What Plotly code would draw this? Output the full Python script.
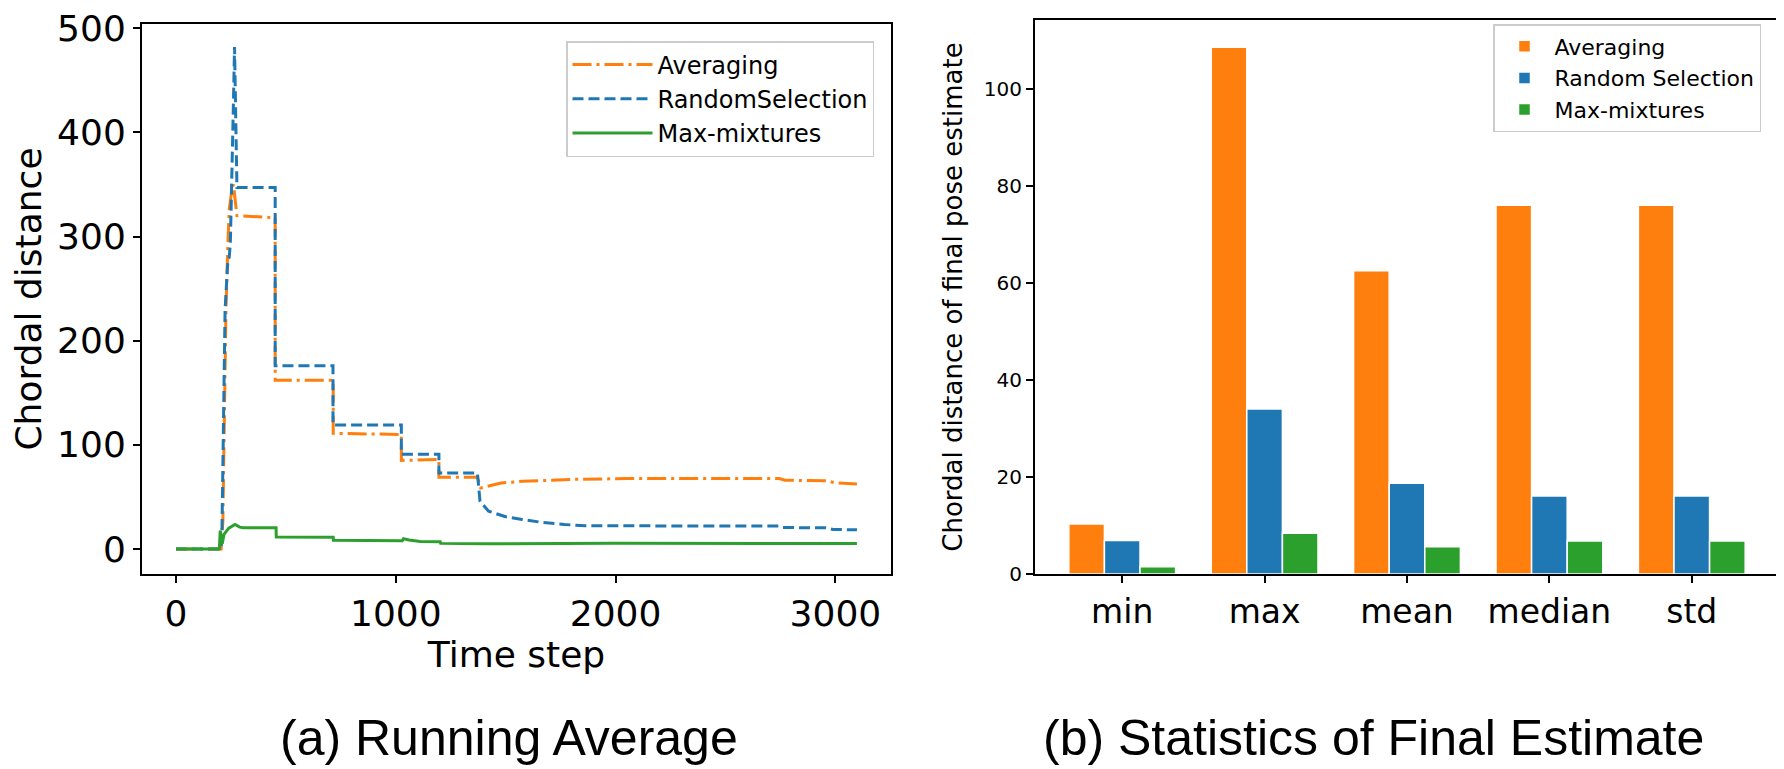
import plotly.graph_objects as go

# colours (matplotlib tab10)
ORANGE = "#ff7f0e"
BLUE = "#1f77b4"
GREEN = "#2ca02c"

# ---- (a) running average ----
avg_t = [0, 205, 213, 227, 236, 242, 254, 261, 277, 451, 451, 715, 715, 1025, 1025,
         1196, 1196, 1371, 1386, 1420, 1479, 1575, 1671, 1800, 2055, 2745, 2770,
         2960, 3000, 3098]
avg_v = [0, 0, 27, 230, 294, 326, 345, 350, 320, 318, 162, 162, 111, 110, 85,
         86, 69, 69, 58.6, 60.5, 63.4, 65, 66, 66.8, 67.6, 67.6, 66,
         65.5, 63.5, 62.4]

rnd_t = [0, 205, 209, 216, 223, 236, 242, 247, 254, 259, 261, 266, 271, 274, 277,
         451, 451, 714, 714, 1025, 1025, 1196, 1196, 1371, 1383, 1422, 1500, 1575,
         1667, 1767, 1863, 2745, 2760, 2955, 2990, 3098]
rnd_v = [0, 0, 20, 135, 230, 278, 280, 294, 352, 390, 428, 482, 428, 390, 347,
         347, 176, 176, 119, 119, 91, 91, 73, 73, 45.7, 36.3, 31, 28.3,
         25.5, 23.5, 22.3, 22, 20.6, 20.3, 18.7, 18.5]

mm_t = [0, 197, 201, 210, 218, 240, 268, 290, 305, 455, 456, 715, 716, 1029,
        1035, 1060, 1111, 1202, 1204, 1400, 2000, 3098]
mm_v = [0, 0, 17.8, 5, 14, 20, 23.6, 21, 20.4, 20.4, 11.5, 11.2, 8.3, 8.0,
        9.9, 8.6, 7.2, 6.9, 5.4, 5.0, 5.5, 5.3]

# ---- (b) statistics of final estimate ----
stats = ["min", "max", "mean", "median", "std"]
avg_stats = [10.3, 108.6, 62.5, 76.0, 76.0]
rnd_stats = [6.9, 34.0, 18.7, 16.1, 16.1]
mm_stats = [1.5, 8.4, 5.6, 6.8, 6.8]

FONT = "DejaVu Sans"
W, H = 1784, 769

fig = go.Figure()

fig.add_trace(go.Scatter(x=avg_t, y=avg_v, mode="lines", name="Averaging",
                         line=dict(color=ORANGE, width=3, dash="19px,5px,3px,5px"),
                         xaxis="x", yaxis="y", legend="legend"))
fig.add_trace(go.Scatter(x=rnd_t, y=rnd_v, mode="lines", name="RandomSelection",
                         line=dict(color=BLUE, width=3, dash="11px,5px"),
                         xaxis="x", yaxis="y", legend="legend"))
fig.add_trace(go.Scatter(x=mm_t, y=mm_v, mode="lines", name="Max-mixtures",
                         line=dict(color=GREEN, width=3),
                         xaxis="x", yaxis="y", legend="legend"))

for name, vals, col in [("Averaging", avg_stats, ORANGE),
                        ("Random Selection", rnd_stats, BLUE),
                        ("Max-mixtures", mm_stats, GREEN)]:
    fig.add_trace(go.Bar(x=stats, y=vals, name=name, marker_color=col,
                         marker_line=dict(color="white", width=1.5),
                         xaxis="x2", yaxis="y2", legend="legend2"))

axis_common = dict(showline=True, mirror=True, linecolor="black", linewidth=2,
                   ticks="outside", ticklen=7, tickwidth=1.5, tickcolor="black",
                   showgrid=False, zeroline=False, automargin=False,
                   ticklabeloverflow="allow")

# left panel top pushed down a touch so the "500" label stays inside the page
ydom_a = [(H - 566) / H, (H - 16) / H]
ydom_b = [(H - 566) / H, (H - 12) / H]

fig.update_layout(
    width=W, height=H, template="none",
    margin=dict(l=0, r=0, t=0, b=0),
    paper_bgcolor="white", plot_bgcolor="white",
    font=dict(family=FONT, color="black"),
    barmode="group", bargap=0.25, bargroupgap=0,
    xaxis=dict(domain=[134 / W, 883 / W], range=[-155, 3253],
               tickvals=[0, 1000, 2000, 3000], tickfont=dict(size=36),
               title=dict(text="Time step", font=dict(size=36), standoff=8),
               anchor="y", **axis_common),
    yaxis=dict(domain=ydom_a, range=[-24, 504],
               tickvals=[0, 100, 200, 300, 400, 500], tickfont=dict(size=36),
               title=dict(text="Chordal distance", font=dict(size=36), standoff=6),
               anchor="x", **axis_common),
    xaxis2=dict(domain=[1027 / W, 1771 / W], range=[-0.6125, 4.6125],
                type="category", tickfont=dict(size=33), anchor="y2", **axis_common),
    yaxis2=dict(domain=ydom_b, range=[0, 114.2], tickvals=[0, 20, 40, 60, 80, 100],
                tickfont=dict(size=20),
                title=dict(text="Chordal distance of final pose estimate",
                           font=dict(size=26), standoff=14),
                anchor="x2", **axis_common),
    legend=dict(x=866 / W, y=(H - 33) / H, xanchor="right", yanchor="top",
                font=dict(size=24), bgcolor="white", bordercolor="#cccccc",
                borderwidth=1.5, itemwidth=80, tracegroupgap=0),
    legend2=dict(x=1753 / W, y=(H - 16) / H, xanchor="right", yanchor="top",
                 font=dict(size=22), bgcolor="white", bordercolor="#cccccc",
                 borderwidth=1.5, itemwidth=50),
    annotations=[
        dict(text="(a) Running Average", x=501 / W, y=(H - 730) / H,
             xref="paper", yref="paper", showarrow=False, xanchor="center",
             yanchor="middle", font=dict(family="Liberation Sans", size=50)),
        dict(text="(b) Statistics of Final Estimate", x=1365 / W, y=(H - 730) / H,
             xref="paper", yref="paper", showarrow=False, xanchor="center",
             yanchor="middle", font=dict(family="Liberation Sans", size=50)),
    ],
)

fig.write_html("out.html")
